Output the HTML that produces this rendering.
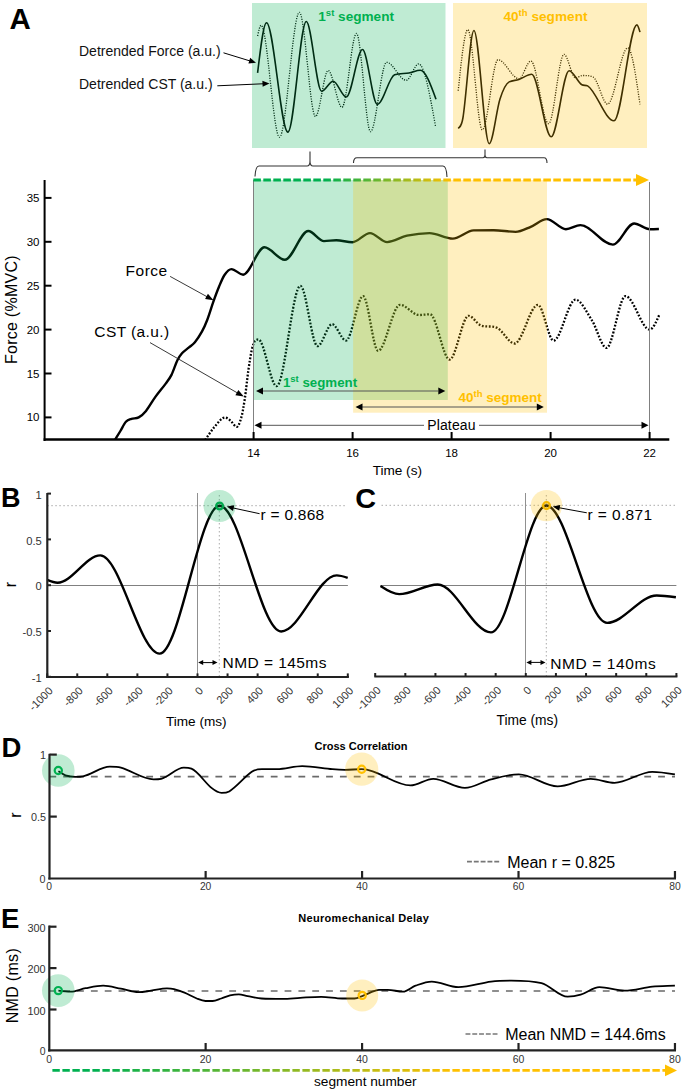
<!DOCTYPE html>
<html><head><meta charset="utf-8"><style>
html,body{margin:0;padding:0;background:#fff;width:685px;height:1092px;overflow:hidden}
svg{display:block;font-family:"Liberation Sans", sans-serif}
</style></head><body>
<svg width="685" height="1092" viewBox="0 0 685 1092">
<rect width="685" height="1092" fill="#fff"/>
<text x="9.6" y="28.6" font-size="29.5" text-anchor="start" font-weight="bold" fill="#000" >A</text>
<path d="M257.60,72.80 C260.57,47.75 263.53,22.70 266.50,22.70 C273.63,22.70 280.77,132.10 287.90,132.10 C294.03,132.10 300.17,21.50 306.30,21.50 C311.40,21.50 316.50,91.20 321.60,91.20 C325.43,91.20 329.27,81.20 333.10,81.20 C337.50,81.20 341.90,97.00 346.30,97.00 C351.70,97.00 357.10,49.50 362.50,49.50 C367.43,49.50 372.37,104.40 377.30,104.40 C383.07,104.40 388.83,76.74 394.60,74.70 C399.40,73.00 404.20,73.82 409.00,73.00 C412.77,72.36 416.53,70.30 420.30,70.30 C425.53,70.30 430.77,84.75 436.00,99.20" fill="none" stroke="#000" stroke-width="1.6" stroke-linejoin="round"/>
<path d="M257.60,36.00 C258.77,30.65 259.93,25.30 261.10,25.30 C267.23,25.30 273.37,137.20 279.50,137.20 C286.13,137.20 292.77,12.30 299.40,12.30 C304.77,12.30 310.13,116.50 315.50,116.50 C319.73,116.50 323.97,70.50 328.20,70.50 C332.80,70.50 337.40,107.30 342.00,107.30 C346.83,107.30 351.67,33.40 356.50,33.40 C361.17,33.40 365.83,131.70 370.50,131.70 C375.87,131.70 381.23,62.30 386.60,62.30 C393.13,62.30 399.67,80.30 406.20,80.30 C410.37,80.30 414.53,63.90 418.70,63.90 C424.30,63.90 429.90,95.00 435.50,126.10" fill="none" stroke="#000" stroke-width="1.3" stroke-dasharray="1.1 1.4"/>
<path d="M458.30,128.40 C459.87,126.52 461.43,127.33 463.00,117.50 C466.63,94.70 470.27,30.50 473.90,30.50 C479.00,30.50 484.10,143.70 489.20,143.70 C492.80,143.70 496.40,110.12 500.00,99.00 C503.07,89.52 506.13,83.43 509.20,81.90 C512.43,80.28 515.67,80.61 518.90,79.50 C523.17,78.04 527.43,74.20 531.70,74.20 C538.20,74.20 544.70,136.80 551.20,136.80 C557.17,136.80 563.13,70.70 569.10,70.70 C573.37,70.70 577.63,82.33 581.90,84.80 C583.80,85.90 585.70,84.80 587.60,85.90 C596.40,90.99 605.20,120.80 614.00,120.80 C621.63,120.80 629.27,24.90 636.90,24.90 C637.93,24.90 638.97,28.50 640.00,32.10" fill="none" stroke="#000" stroke-width="1.6" stroke-linejoin="round"/>
<path d="M458.20,90.70 C461.40,60.20 464.60,29.70 467.80,29.70 C472.63,29.70 477.47,129.80 482.30,129.80 C487.53,129.80 492.77,59.70 498.00,59.70 C504.97,59.70 511.93,78.70 518.90,78.70 C522.90,78.70 526.90,61.00 530.90,61.00 C536.80,61.00 542.70,123.70 548.60,123.70 C553.73,123.70 558.87,54.30 564.00,54.30 C567.83,54.30 571.67,77.90 575.50,77.90 C577.90,77.90 580.30,75.50 582.70,75.50 C586.20,75.50 589.70,75.50 593.20,77.10 C598.00,79.29 602.80,104.10 607.60,104.10 C614.30,104.10 621.00,47.90 627.70,47.90 C631.80,47.90 635.90,76.15 640.00,104.40" fill="none" stroke="#000" stroke-width="1.3" stroke-dasharray="1.1 1.4"/>
<rect x="252" y="3" width="193.5" height="145" fill="rgba(0,176,80,0.25)"/>
<rect x="453" y="3" width="194" height="145" fill="rgba(255,192,0,0.25)"/>
<text x="318.3" y="21.2" font-size="13.6" text-anchor="start" font-weight="bold" fill="#00B050" letter-spacing="0">1<tspan font-size="9.5" dy="-4.8">st</tspan><tspan dy="4.8"> segment</tspan></text>
<text x="503.4" y="21.2" font-size="13.6" text-anchor="start" font-weight="bold" fill="#FFC000" letter-spacing="0.03">40<tspan font-size="9.5" dy="-4.8">th</tspan><tspan dy="4.8"> segment</tspan></text>
<text x="79" y="56" font-size="14" text-anchor="start" font-weight="normal" fill="#111" >Detrended Force (a.u.)</text>
<text x="79" y="89.2" font-size="14" text-anchor="start" font-weight="normal" fill="#111" >Detrended CST (a.u.)</text>
<line x1="223.5" y1="52.8" x2="250.6476375511571" y2="61.15311924650987" stroke="#000" stroke-width="1" />
<polygon points="256.00,62.80 248.43,63.61 250.19,57.87" fill="#000"/>
<line x1="217.3" y1="85.8" x2="263.90542801332845" y2="83.74650412968093" stroke="#000" stroke-width="1" />
<polygon points="269.50,83.50 262.64,86.81 262.37,80.81" fill="#000"/>
<path d="M255,176.5 Q255.5,166 259,166 L307,166 Q310,166 310,161 L310,151.5 M310,161 Q310,166 313,166 L443,166 Q446.5,166 447,177" fill="none" stroke="#333" stroke-width="1.1"/>
<path d="M353.5,163 Q353.5,157.7 357,157.7 L483,157.7 Q485,157.7 485,155 L485,149.5 M485,155 Q485,157.7 487,157.7 L544,157.7 Q547,157.7 547,163" fill="none" stroke="#333" stroke-width="1.1"/>
<clipPath id="ca"><rect x="44" y="170" width="640" height="269"/></clipPath>
<g clip-path="url(#ca)">
<path d="M114.60,440.50 C116.53,437.33 118.47,434.20 120.40,431.00 C122.23,427.97 124.07,423.82 125.90,421.80 C127.73,419.78 129.57,419.53 131.40,418.90 C133.83,418.06 136.27,418.73 138.70,417.40 C141.13,416.07 143.57,413.89 146.00,410.90 C149.07,407.13 152.13,401.35 155.20,397.10 C158.70,392.25 162.20,388.37 165.70,383.60 C167.63,380.97 169.57,378.75 171.50,374.90 C173.47,370.98 175.43,364.35 177.40,360.30 C178.93,357.15 180.47,355.01 182.00,353.30 C184.33,350.71 186.67,349.41 189.00,347.40 C190.97,345.71 192.93,344.59 194.90,342.20 C197.23,339.36 199.57,335.91 201.90,331.70 C203.67,328.51 205.43,324.62 207.20,320.00 C209.23,314.68 211.27,307.62 213.30,301.90 C215.20,296.55 217.10,291.36 219.00,286.80 C220.83,282.40 222.67,277.62 224.50,275.00 C226.80,271.72 229.10,269.10 231.40,269.10 C235.30,269.10 239.20,274.70 243.10,274.70 C250.20,274.70 257.30,247.30 264.40,247.30 C271.20,247.30 278.00,259.80 284.80,259.80 C292.63,259.80 300.47,231.00 308.30,231.00 C313.53,231.00 318.77,241.10 324.00,241.10 C328.10,241.10 332.20,240.20 336.30,240.20 C341.67,240.20 347.03,242.20 352.40,242.20 C358.27,242.20 364.13,233.10 370.00,233.10 C375.70,233.10 381.40,242.10 387.10,242.10 C393.73,242.10 400.37,237.11 407.00,235.70 C414.50,234.11 422.00,233.10 429.50,233.10 C437.27,233.10 445.03,238.60 452.80,238.60 C459.73,238.60 466.67,230.61 473.60,230.40 C480.30,230.20 487.00,230.20 493.70,230.20 C501.00,230.20 508.30,231.90 515.60,231.90 C520.63,231.90 525.67,228.86 530.70,226.80 C536.07,224.60 541.43,219.10 546.80,219.10 C553.17,219.10 559.53,229.20 565.90,229.20 C570.73,229.20 575.57,225.10 580.40,225.10 C591.23,225.10 602.07,244.60 612.90,244.60 C619.97,244.60 627.03,223.50 634.10,223.50 C639.37,223.50 644.63,229.20 649.90,229.20 C652.90,229.20 655.90,229.10 658.90,229.00" fill="none" stroke="#000" stroke-width="2.4" stroke-linejoin="round"/>
<path d="M205.10,440.00 C208.23,435.63 211.37,430.44 214.50,426.90 C218.00,422.94 221.50,417.50 225.00,417.50 C226.93,417.50 228.87,419.45 230.80,421.00 C232.77,422.58 234.73,426.90 236.70,426.90 C238.23,426.90 239.77,422.82 241.30,417.50 C242.47,413.45 243.63,406.58 244.80,398.80 C245.97,391.02 247.13,378.97 248.30,370.80 C249.47,362.63 250.63,354.87 251.80,349.80 C252.97,344.73 254.13,341.42 255.30,340.40 C256.33,339.50 257.37,339.50 258.40,339.50 C264.47,339.50 270.53,386.20 276.60,386.20 C284.53,386.20 292.47,285.80 300.40,285.80 C306.10,285.80 311.80,346.10 317.50,346.10 C322.37,346.10 327.23,324.20 332.10,324.20 C336.73,324.20 341.37,340.60 346.00,340.60 C351.70,340.60 357.40,296.10 363.10,296.10 C368.10,296.10 373.10,350.80 378.10,350.80 C385.40,350.80 392.70,304.80 400.00,304.80 C406.33,304.80 412.67,315.00 419.00,315.00 C422.67,315.00 426.33,314.30 430.00,314.30 C436.53,314.30 443.07,359.60 449.60,359.60 C455.93,359.60 462.27,315.80 468.60,315.80 C472.60,315.80 476.60,323.61 480.60,325.30 C486.07,327.61 491.53,325.30 497.00,327.80 C502.87,330.48 508.73,343.50 514.60,343.50 C522.37,343.50 530.13,304.80 537.90,304.80 C543.13,304.80 548.37,340.60 553.60,340.60 C560.90,340.60 568.20,299.70 575.50,299.70 C581.00,299.70 586.50,311.95 592.00,320.50 C596.83,328.02 601.67,347.90 606.50,347.90 C612.83,347.90 619.17,296.10 625.50,296.10 C633.53,296.10 641.57,329.60 649.60,329.60 C652.90,329.60 656.20,321.95 659.50,314.30" fill="none" stroke="#000" stroke-width="2.3" stroke-dasharray="1.8 1.7"/>
</g>
<rect x="253.6" y="180" width="194.2" height="220" fill="rgba(0,176,80,0.25)"/>
<rect x="353.1" y="180" width="193.9" height="232.7" fill="rgba(255,192,0,0.25)"/>
<line x1="253.5" y1="180" x2="253.5" y2="440" stroke="#808080" stroke-width="1" />
<line x1="649.5" y1="182" x2="649.5" y2="440" stroke="#808080" stroke-width="1" />
<defs><linearGradient id="gt" gradientUnits="userSpaceOnUse" x1="325" y1="0" x2="452" y2="0"><stop offset="0" stop-color="#00B050"/><stop offset="1" stop-color="#FFC000"/></linearGradient><linearGradient id="gb" gradientUnits="userSpaceOnUse" x1="95" y1="0" x2="455" y2="0"><stop offset="0" stop-color="#00B050"/><stop offset="1" stop-color="#FFC000"/></linearGradient></defs>
<line x1="253.3" y1="180" x2="637" y2="180" stroke="url(#gt)" stroke-width="3" stroke-dasharray="7.6 2.4"/>
<polygon points="649,180 636,174 636,186" fill="#FFC000"/>
<line x1="44.6" y1="180" x2="44.6" y2="441" stroke="#000" stroke-width="2" />
<line x1="43.6" y1="439.4" x2="669.3" y2="439.4" stroke="#000" stroke-width="2.5" />
<line x1="44.6" y1="417.4" x2="51.5" y2="417.4" stroke="#000" stroke-width="2" />
<text x="39.5" y="421.4" font-size="11.5" text-anchor="end" font-weight="normal" fill="#000" >10</text>
<line x1="44.6" y1="373.5" x2="51.5" y2="373.5" stroke="#000" stroke-width="2" />
<text x="39.5" y="377.5" font-size="11.5" text-anchor="end" font-weight="normal" fill="#000" >15</text>
<line x1="44.6" y1="329.59999999999997" x2="51.5" y2="329.59999999999997" stroke="#000" stroke-width="2" />
<text x="39.5" y="333.59999999999997" font-size="11.5" text-anchor="end" font-weight="normal" fill="#000" >20</text>
<line x1="44.6" y1="285.7" x2="51.5" y2="285.7" stroke="#000" stroke-width="2" />
<text x="39.5" y="289.7" font-size="11.5" text-anchor="end" font-weight="normal" fill="#000" >25</text>
<line x1="44.6" y1="241.79999999999998" x2="51.5" y2="241.79999999999998" stroke="#000" stroke-width="2" />
<text x="39.5" y="245.79999999999998" font-size="11.5" text-anchor="end" font-weight="normal" fill="#000" >30</text>
<line x1="44.6" y1="197.9" x2="51.5" y2="197.9" stroke="#000" stroke-width="2" />
<text x="39.5" y="201.9" font-size="11.5" text-anchor="end" font-weight="normal" fill="#000" >35</text>
<line x1="253.6" y1="432" x2="253.6" y2="440" stroke="#000" stroke-width="2" />
<text x="253.6" y="456.5" font-size="11.5" text-anchor="middle" font-weight="normal" fill="#000" >14</text>
<line x1="352.6" y1="432" x2="352.6" y2="440" stroke="#000" stroke-width="2" />
<text x="352.6" y="456.5" font-size="11.5" text-anchor="middle" font-weight="normal" fill="#000" >16</text>
<line x1="451.6" y1="432" x2="451.6" y2="440" stroke="#000" stroke-width="2" />
<text x="451.6" y="456.5" font-size="11.5" text-anchor="middle" font-weight="normal" fill="#000" >18</text>
<line x1="550.6" y1="432" x2="550.6" y2="440" stroke="#000" stroke-width="2" />
<text x="550.6" y="456.5" font-size="11.5" text-anchor="middle" font-weight="normal" fill="#000" >20</text>
<line x1="649.6" y1="432" x2="649.6" y2="440" stroke="#000" stroke-width="2" />
<text x="649.6" y="456.5" font-size="11.5" text-anchor="middle" font-weight="normal" fill="#000" >22</text>
<text x="397.3" y="474.9" font-size="13.6" text-anchor="middle" font-weight="normal" fill="#000" >Time (s)</text>
<text x="0" y="0" font-size="16" text-anchor="middle" font-weight="normal" fill="#000" letter-spacing="0.25" transform="translate(17.4,309.6) rotate(-90)">Force (%MVC)</text>
<text x="125.6" y="276" font-size="15.5" text-anchor="start" font-weight="normal" fill="#000" letter-spacing="0.5">Force</text>
<text x="94.3" y="337.2" font-size="15.5" text-anchor="start" font-weight="normal" fill="#000" letter-spacing="0.4">CST (a.u.)</text>
<line x1="170.1" y1="276.4" x2="207.89385534098426" y2="297.21274522233927" stroke="#222" stroke-width="0.9" />
<polygon points="213.50,300.30 205.05,299.07 207.94,293.81" fill="#000"/>
<line x1="150" y1="342.6" x2="238.25346131711427" y2="393.4068967070807" stroke="#222" stroke-width="0.9" />
<polygon points="243.80,396.60 235.37,395.21 238.36,390.01" fill="#000"/>
<line x1="262" y1="391" x2="438" y2="391" stroke="#555" stroke-width="1.2" />
<polygon points="256.00,391.00 263.00,387.50 263.00,394.50" fill="#000"/>
<polygon points="445.30,391.00 438.30,394.50 438.30,387.50" fill="#000"/>
<text x="282.9" y="387" font-size="13.3" text-anchor="start" font-weight="bold" fill="#00B050" letter-spacing="0">1<tspan font-size="9.5" dy="-4.8">st</tspan><tspan dy="4.8"> segment</tspan></text>
<line x1="362" y1="407" x2="537" y2="407" stroke="#555" stroke-width="1.2" />
<polygon points="355.50,407.00 362.50,403.50 362.50,410.50" fill="#000"/>
<polygon points="543.80,407.00 536.80,410.50 536.80,403.50" fill="#000"/>
<text x="458.5" y="402.2" font-size="13.5" text-anchor="start" font-weight="bold" fill="#FFC000" letter-spacing="0">40<tspan font-size="9.5" dy="-4.8">th</tspan><tspan dy="4.8"> segment</tspan></text>
<line x1="261" y1="425.3" x2="424" y2="425.3" stroke="#555" stroke-width="1" />
<line x1="479" y1="425.3" x2="642" y2="425.3" stroke="#555" stroke-width="1" />
<polygon points="254.50,425.30 261.50,421.80 261.50,428.80" fill="#000"/>
<polygon points="648.50,425.30 641.50,428.80 641.50,421.80" fill="#000"/>
<text x="427.2" y="430.2" font-size="14" text-anchor="start" font-weight="normal" fill="#000" letter-spacing="0.15">Plateau</text>
<text x="0.9" y="507.4" font-size="27" text-anchor="start" font-weight="bold" fill="#000" >B</text>
<line x1="47.3" y1="505.7" x2="346" y2="505.7" stroke="#aaa" stroke-width="1" stroke-dasharray="1.5 2.5"/>
<line x1="219.3" y1="495" x2="219.3" y2="676" stroke="#aaa" stroke-width="1" stroke-dasharray="1.5 2.5"/>
<line x1="47.3" y1="585.5" x2="347.9" y2="585.5" stroke="#808080" stroke-width="1" />
<line x1="197.5" y1="493" x2="197.5" y2="677" stroke="#909090" stroke-width="1" />
<path d="M47.30,579.90 C50.70,581.30 54.10,582.70 57.50,582.70 C71.77,582.70 86.03,555.40 100.30,555.40 C120.07,555.40 139.83,653.60 159.60,653.60 C179.60,653.60 199.60,505.70 219.60,505.70 C240.10,505.70 260.60,631.50 281.10,631.50 C299.63,631.50 318.17,575.40 336.70,575.40 C340.37,575.40 344.03,576.65 347.70,577.90" fill="none" stroke="#000" stroke-width="2.4" stroke-linejoin="round"/>
<circle cx="219.6" cy="506" r="16" fill="rgba(0,176,80,0.25)"/>
<circle cx="219.6" cy="506" r="3.4" fill="none" stroke="#00A84C" stroke-width="2.3"/>
<line x1="259.6" y1="513.7" x2="232.27323970353814" y2="507.7847561553391" stroke="#000" stroke-width="1" />
<polygon points="226.80,506.60 234.28,505.15 233.01,511.01" fill="#000"/>
<text x="260.6" y="520.2" font-size="15.5" text-anchor="start" font-weight="normal" fill="#000" letter-spacing="0.25">r = 0.868</text>
<line x1="47.3" y1="493" x2="47.3" y2="678" stroke="#222" stroke-width="2.2" />
<line x1="46.2" y1="677" x2="348.9" y2="677" stroke="#222" stroke-width="2.2" />
<line x1="47.3" y1="493.6" x2="51" y2="493.6" stroke="#222" stroke-width="2" />
<text x="41.8" y="498.70000000000005" font-size="11.2" text-anchor="end" font-weight="normal" fill="#333" >1</text>
<line x1="47.3" y1="539.4000000000001" x2="51" y2="539.4000000000001" stroke="#222" stroke-width="2" />
<text x="41.8" y="544.5000000000001" font-size="11.2" text-anchor="end" font-weight="normal" fill="#333" >0.5</text>
<line x1="47.3" y1="585.2" x2="51" y2="585.2" stroke="#222" stroke-width="2" />
<text x="41.8" y="590.3000000000001" font-size="11.2" text-anchor="end" font-weight="normal" fill="#333" >0</text>
<line x1="47.3" y1="631.0" x2="51" y2="631.0" stroke="#222" stroke-width="2" />
<text x="41.8" y="636.1" font-size="11.2" text-anchor="end" font-weight="normal" fill="#333" >-0.5</text>
<line x1="47.3" y1="676.8000000000001" x2="51" y2="676.8000000000001" stroke="#222" stroke-width="2" />
<text x="41.8" y="681.9000000000001" font-size="11.2" text-anchor="end" font-weight="normal" fill="#333" >-1</text>
<line x1="47.20000000000002" y1="673.4" x2="47.20000000000002" y2="677" stroke="#222" stroke-width="2" />
<text x="0" y="0" font-size="11" text-anchor="end" font-weight="normal" fill="#333" transform="translate(53.5,691.5) rotate(-45)">-1000</text>
<line x1="77.26" y1="673.4" x2="77.26" y2="677" stroke="#222" stroke-width="2" />
<text x="0" y="0" font-size="11" text-anchor="end" font-weight="normal" fill="#333" transform="translate(83.6,691.5) rotate(-45)">-800</text>
<line x1="107.32000000000001" y1="673.4" x2="107.32000000000001" y2="677" stroke="#222" stroke-width="2" />
<text x="0" y="0" font-size="11" text-anchor="end" font-weight="normal" fill="#333" transform="translate(113.6,691.5) rotate(-45)">-600</text>
<line x1="137.38" y1="673.4" x2="137.38" y2="677" stroke="#222" stroke-width="2" />
<text x="0" y="0" font-size="11" text-anchor="end" font-weight="normal" fill="#333" transform="translate(143.7,691.5) rotate(-45)">-400</text>
<line x1="167.44" y1="673.4" x2="167.44" y2="677" stroke="#222" stroke-width="2" />
<text x="0" y="0" font-size="11" text-anchor="end" font-weight="normal" fill="#333" transform="translate(173.7,691.5) rotate(-45)">-200</text>
<line x1="197.5" y1="673.4" x2="197.5" y2="677" stroke="#222" stroke-width="2" />
<text x="0" y="0" font-size="11" text-anchor="end" font-weight="normal" fill="#333" transform="translate(203.8,691.5) rotate(-45)">0</text>
<line x1="227.56" y1="673.4" x2="227.56" y2="677" stroke="#222" stroke-width="2" />
<text x="0" y="0" font-size="11" text-anchor="end" font-weight="normal" fill="#333" transform="translate(233.9,691.5) rotate(-45)">200</text>
<line x1="257.62" y1="673.4" x2="257.62" y2="677" stroke="#222" stroke-width="2" />
<text x="0" y="0" font-size="11" text-anchor="end" font-weight="normal" fill="#333" transform="translate(263.9,691.5) rotate(-45)">400</text>
<line x1="287.68" y1="673.4" x2="287.68" y2="677" stroke="#222" stroke-width="2" />
<text x="0" y="0" font-size="11" text-anchor="end" font-weight="normal" fill="#333" transform="translate(294.0,691.5) rotate(-45)">600</text>
<line x1="317.74" y1="673.4" x2="317.74" y2="677" stroke="#222" stroke-width="2" />
<text x="0" y="0" font-size="11" text-anchor="end" font-weight="normal" fill="#333" transform="translate(324.0,691.5) rotate(-45)">800</text>
<line x1="347.79999999999995" y1="673.4" x2="347.79999999999995" y2="677" stroke="#222" stroke-width="2" />
<text x="0" y="0" font-size="11" text-anchor="end" font-weight="normal" fill="#333" transform="translate(354.1,691.5) rotate(-45)">1000</text>
<text x="196.3" y="726.1" font-size="13.6" text-anchor="middle" font-weight="normal" fill="#000" >Time (ms)</text>
<text x="0" y="0" font-size="16" text-anchor="middle" font-weight="normal" fill="#000" transform="translate(15.7,584.5) rotate(-90)">r</text>
<line x1="202" y1="662.6" x2="213" y2="662.6" stroke="#000" stroke-width="1" />
<polygon points="198.20,662.60 203.20,660.10 203.20,665.10" fill="#000"/>
<polygon points="217.50,662.60 212.50,665.10 212.50,660.10" fill="#000"/>
<text x="222.5" y="667.9" font-size="15.5" text-anchor="start" font-weight="normal" fill="#000" letter-spacing="0.45">NMD = 145ms</text>
<text x="355.3" y="507.6" font-size="27.5" text-anchor="start" font-weight="bold" fill="#000" letter-spacing="0" transform="translate(355.3 0) scale(1.05 1) translate(-355.3 0)">C</text>
<line x1="381.5" y1="505.3" x2="676" y2="505.3" stroke="#aaa" stroke-width="1" stroke-dasharray="1.5 2.5"/>
<line x1="546.3" y1="495" x2="546.3" y2="676" stroke="#aaa" stroke-width="1" stroke-dasharray="1.5 2.5"/>
<line x1="380.3" y1="585.5" x2="676.4" y2="585.5" stroke="#808080" stroke-width="1" />
<line x1="525.5" y1="493" x2="525.5" y2="676.5" stroke="#909090" stroke-width="1" />
<path d="M380.50,585.90 C386.73,590.00 392.97,594.10 399.20,594.10 C412.03,594.10 424.87,584.50 437.70,584.50 C455.47,584.50 473.23,632.40 491.00,632.40 C509.47,632.40 527.93,505.50 546.40,505.50 C566.63,505.50 586.87,622.90 607.10,622.90 C623.63,622.90 640.17,595.50 656.70,595.50 C663.10,595.50 669.50,596.35 675.90,597.20" fill="none" stroke="#000" stroke-width="2.4" stroke-linejoin="round"/>
<circle cx="546.5" cy="505.6" r="15.7" fill="rgba(255,192,0,0.25)"/>
<circle cx="546.5" cy="505.6" r="3.4" fill="none" stroke="#F5B800" stroke-width="2.3"/>
<line x1="586.8" y1="512.8" x2="558.3091522500698" y2="507.60461011618924" stroke="#000" stroke-width="1" />
<polygon points="552.80,506.60 560.22,504.90 559.15,510.81" fill="#000"/>
<text x="587.6" y="520.3" font-size="15.5" text-anchor="start" font-weight="normal" fill="#000" letter-spacing="0.37">r = 0.871</text>
<line x1="374.3" y1="676.5" x2="677.4" y2="676.5" stroke="#222" stroke-width="2.2" />
<line x1="375.19999999999993" y1="673" x2="375.19999999999993" y2="676.5" stroke="#222" stroke-width="2" />
<text x="0" y="0" font-size="11" text-anchor="end" font-weight="normal" fill="#333" transform="translate(381.5,691) rotate(-45)">-1000</text>
<line x1="405.31999999999994" y1="673" x2="405.31999999999994" y2="676.5" stroke="#222" stroke-width="2" />
<text x="0" y="0" font-size="11" text-anchor="end" font-weight="normal" fill="#333" transform="translate(411.6,691) rotate(-45)">-800</text>
<line x1="435.43999999999994" y1="673" x2="435.43999999999994" y2="676.5" stroke="#222" stroke-width="2" />
<text x="0" y="0" font-size="11" text-anchor="end" font-weight="normal" fill="#333" transform="translate(441.7,691) rotate(-45)">-600</text>
<line x1="465.55999999999995" y1="673" x2="465.55999999999995" y2="676.5" stroke="#222" stroke-width="2" />
<text x="0" y="0" font-size="11" text-anchor="end" font-weight="normal" fill="#333" transform="translate(471.9,691) rotate(-45)">-400</text>
<line x1="495.67999999999995" y1="673" x2="495.67999999999995" y2="676.5" stroke="#222" stroke-width="2" />
<text x="0" y="0" font-size="11" text-anchor="end" font-weight="normal" fill="#333" transform="translate(502.0,691) rotate(-45)">-200</text>
<line x1="525.8" y1="673" x2="525.8" y2="676.5" stroke="#222" stroke-width="2" />
<text x="0" y="0" font-size="11" text-anchor="end" font-weight="normal" fill="#333" transform="translate(532.1,691) rotate(-45)">0</text>
<line x1="555.92" y1="673" x2="555.92" y2="676.5" stroke="#222" stroke-width="2" />
<text x="0" y="0" font-size="11" text-anchor="end" font-weight="normal" fill="#333" transform="translate(562.2,691) rotate(-45)">200</text>
<line x1="586.04" y1="673" x2="586.04" y2="676.5" stroke="#222" stroke-width="2" />
<text x="0" y="0" font-size="11" text-anchor="end" font-weight="normal" fill="#333" transform="translate(592.3,691) rotate(-45)">400</text>
<line x1="616.16" y1="673" x2="616.16" y2="676.5" stroke="#222" stroke-width="2" />
<text x="0" y="0" font-size="11" text-anchor="end" font-weight="normal" fill="#333" transform="translate(622.5,691) rotate(-45)">600</text>
<line x1="646.28" y1="673" x2="646.28" y2="676.5" stroke="#222" stroke-width="2" />
<text x="0" y="0" font-size="11" text-anchor="end" font-weight="normal" fill="#333" transform="translate(652.6,691) rotate(-45)">800</text>
<line x1="676.4" y1="673" x2="676.4" y2="676.5" stroke="#222" stroke-width="2" />
<text x="0" y="0" font-size="11" text-anchor="end" font-weight="normal" fill="#333" transform="translate(682.7,691) rotate(-45)">1000</text>
<text x="527.3" y="725.3" font-size="13.8" text-anchor="middle" font-weight="normal" fill="#000" >Time (ms)</text>
<line x1="530" y1="662.4" x2="541.5" y2="662.4" stroke="#000" stroke-width="1" />
<polygon points="526.40,662.40 531.40,659.90 531.40,664.90" fill="#000"/>
<polygon points="545.50,662.40 540.50,664.90 540.50,659.90" fill="#000"/>
<text x="550.3" y="668.6" font-size="15.5" text-anchor="start" font-weight="normal" fill="#000" letter-spacing="0.6">NMD = 140ms</text>
<text x="1.4" y="756.5" font-size="27.5" text-anchor="start" font-weight="bold" fill="#000" >D</text>
<text x="361" y="749.9" font-size="11" text-anchor="middle" font-weight="bold" fill="#000" >Cross Correlation</text>
<line x1="49.4" y1="776.6" x2="675" y2="776.6" stroke="#6a6a6a" stroke-width="1.7" stroke-dasharray="6.8 7.035"/>
<path d="M58.40,771.30 C60.77,772.63 63.13,774.54 65.50,775.30 C68.83,776.37 72.17,776.80 75.50,776.80 C78.03,776.80 80.57,776.80 83.10,776.30 C92.00,774.54 100.90,766.70 109.80,766.70 C113.50,766.70 117.20,766.70 120.90,767.70 C131.80,770.65 142.70,779.30 153.60,779.30 C156.13,779.30 158.67,779.30 161.20,778.80 C168.73,777.31 176.27,767.70 183.80,767.70 C186.33,767.70 188.87,767.70 191.40,768.70 C198.10,771.34 204.80,782.53 211.50,787.90 C214.87,790.60 218.23,792.90 221.60,792.90 C224.13,792.90 226.67,792.90 229.20,791.40 C236.73,786.94 244.27,776.91 251.80,771.80 C255.17,769.51 258.53,769.20 261.90,769.20 C266.93,769.20 271.97,769.20 277.00,769.20 C285.40,769.20 293.80,766.20 302.20,766.20 C312.27,766.20 322.33,768.35 332.40,769.20 C336.60,769.55 340.80,769.80 345.00,769.80 C350.57,769.80 356.13,769.20 361.70,769.20 C365.37,769.20 369.03,770.08 372.70,771.30 C385.30,775.48 397.90,785.40 410.50,785.40 C418.07,785.40 425.63,778.80 433.20,778.80 C443.77,778.80 454.33,787.90 464.90,787.90 C473.63,787.90 482.37,781.50 491.10,779.30 C500.33,776.97 509.57,774.30 518.80,774.30 C531.73,774.30 544.67,786.40 557.60,786.40 C568.67,786.40 579.73,778.80 590.80,778.80 C598.70,778.80 606.60,782.80 614.50,782.80 C627.10,782.80 639.70,771.80 652.30,771.80 C659.83,771.80 667.37,773.05 674.90,774.30" fill="none" stroke="#000" stroke-width="1.8" stroke-linejoin="round"/>
<circle cx="58.3" cy="770.5" r="16.3" fill="rgba(0,176,80,0.25)"/>
<circle cx="58.3" cy="770.5" r="3.6" fill="none" stroke="#00B050" stroke-width="2.2"/>
<circle cx="361.7" cy="769.2" r="16.6" fill="rgba(255,192,0,0.25)"/>
<circle cx="361.7" cy="769.2" r="3.6" fill="none" stroke="#FFC000" stroke-width="2.2"/>
<line x1="49.5" y1="753.8" x2="49.5" y2="879.5" stroke="#222" stroke-width="2.2" />
<line x1="48.4" y1="878.5" x2="676" y2="878.5" stroke="#222" stroke-width="2.2" />
<line x1="49.5" y1="754.6" x2="56.8" y2="754.6" stroke="#222" stroke-width="2.2" />
<text x="46" y="759.4" font-size="10.8" text-anchor="end" font-weight="normal" fill="#333" >1</text>
<line x1="49.5" y1="816.6" x2="56.8" y2="816.6" stroke="#222" stroke-width="2.2" />
<text x="46" y="821.4" font-size="10.8" text-anchor="end" font-weight="normal" fill="#333" >0.5</text>
<text x="45.6" y="882.8" font-size="10.8" text-anchor="end" font-weight="normal" fill="#333" >0</text>
<line x1="205.64" y1="871" x2="205.64" y2="878.5" stroke="#222" stroke-width="2.2" />
<line x1="362.08" y1="871" x2="362.08" y2="878.5" stroke="#222" stroke-width="2.2" />
<line x1="518.52" y1="871" x2="518.52" y2="878.5" stroke="#222" stroke-width="2.2" />
<line x1="674.96" y1="871" x2="674.96" y2="878.5" stroke="#222" stroke-width="2.2" />
<text x="49.2" y="890.3" font-size="10.3" text-anchor="middle" font-weight="normal" fill="#333" >0</text>
<text x="205.64" y="890.3" font-size="10.3" text-anchor="middle" font-weight="normal" fill="#333" >20</text>
<text x="362.08" y="890.3" font-size="10.3" text-anchor="middle" font-weight="normal" fill="#333" >40</text>
<text x="518.52" y="890.3" font-size="10.3" text-anchor="middle" font-weight="normal" fill="#333" >60</text>
<text x="674.96" y="890.3" font-size="10.3" text-anchor="middle" font-weight="normal" fill="#333" >80</text>
<text x="0" y="0" font-size="16" text-anchor="middle" font-weight="normal" fill="#000" transform="translate(21,815) rotate(-90)">r</text>
<line x1="467" y1="861.6" x2="499.2" y2="861.6" stroke="#777" stroke-width="1.6" stroke-dasharray="4.9 1.92"/>
<text x="507.2" y="867.5" font-size="16" text-anchor="start" font-weight="normal" fill="#000" >Mean r = 0.825</text>
<text x="0.9" y="928.4" font-size="27.5" text-anchor="start" font-weight="bold" fill="#000" >E</text>
<text x="363.7" y="922.1" font-size="11" text-anchor="middle" font-weight="bold" fill="#000" letter-spacing="0.33">Neuromechanical Delay</text>
<line x1="49.4" y1="991" x2="675" y2="991" stroke="#6a6a6a" stroke-width="1.7" stroke-dasharray="6.8 7.035"/>
<path d="M58.40,990.70 C62.43,991.20 66.47,991.70 70.50,991.70 C75.53,991.70 80.57,989.12 85.60,988.20 C91.47,987.12 97.33,985.70 103.20,985.70 C109.10,985.70 115.00,987.61 120.90,988.70 C126.77,989.78 132.63,992.20 138.50,992.20 C142.70,992.20 146.90,991.26 151.10,990.70 C156.40,989.99 161.70,988.40 167.00,988.40 C169.33,988.40 171.67,988.54 174.00,989.10 C177.50,989.94 181.00,991.16 184.50,992.60 C188.60,994.29 192.70,996.86 196.80,998.50 C199.70,999.66 202.60,1001.00 205.50,1001.00 C207.87,1001.00 210.23,1001.00 212.60,1001.00 C215.50,1001.00 218.40,999.43 221.30,998.50 C224.20,997.57 227.10,996.10 230.00,995.40 C232.93,994.70 235.87,994.30 238.80,994.30 C241.73,994.30 244.67,995.56 247.60,996.10 C252.27,996.96 256.93,998.23 261.60,998.50 C268.60,998.90 275.60,998.90 282.60,998.90 C288.47,998.90 294.33,998.12 300.20,997.80 C307.20,997.42 314.20,996.80 321.20,996.80 C328.20,996.80 335.20,998.50 342.20,998.50 C346.30,998.50 350.40,998.50 354.50,998.50 C357.07,998.50 359.63,997.06 362.20,996.10 C364.87,995.10 367.53,993.60 370.20,992.60 C373.13,991.50 376.07,989.80 379.00,989.80 C381.93,989.80 384.87,989.80 387.80,989.80 C392.87,989.80 397.93,991.70 403.00,991.70 C407.17,991.70 411.33,987.17 415.50,985.70 C420.90,983.80 426.30,981.60 431.70,981.60 C440.60,981.60 449.50,987.20 458.40,987.20 C469.30,987.20 480.20,982.96 491.10,981.60 C497.80,980.76 504.50,980.60 511.20,980.60 C521.30,980.60 531.40,980.60 541.50,983.10 C550.20,985.25 558.90,996.70 567.60,996.70 C571.97,996.70 576.33,996.00 580.70,994.70 C586.93,992.84 593.17,987.20 599.40,987.20 C607.80,987.20 616.20,990.70 624.60,990.70 C633.83,990.70 643.07,987.62 652.30,986.70 C659.83,985.95 667.37,986.03 674.90,985.70" fill="none" stroke="#000" stroke-width="1.8" stroke-linejoin="round"/>
<circle cx="58.3" cy="990.6" r="16.3" fill="rgba(0,176,80,0.25)"/>
<circle cx="58.3" cy="990.6" r="3.6" fill="none" stroke="#00B050" stroke-width="2.2"/>
<circle cx="362.2" cy="995.4" r="16" fill="rgba(255,192,0,0.25)"/>
<circle cx="362.2" cy="995.4" r="3.6" fill="none" stroke="#FFC000" stroke-width="2.2"/>
<line x1="49.3" y1="925.5" x2="49.3" y2="1051.5" stroke="#222" stroke-width="2.2" />
<line x1="48.2" y1="1050.4" x2="676" y2="1050.4" stroke="#222" stroke-width="2.2" />
<line x1="49.3" y1="1009.5000000000001" x2="56.5" y2="1009.5000000000001" stroke="#222" stroke-width="2.2" />
<text x="45.6" y="1014.5000000000001" font-size="10.9" text-anchor="end" font-weight="normal" fill="#333" >100</text>
<line x1="49.3" y1="968.1000000000001" x2="56.5" y2="968.1000000000001" stroke="#222" stroke-width="2.2" />
<text x="45.6" y="973.1000000000001" font-size="10.9" text-anchor="end" font-weight="normal" fill="#333" >200</text>
<line x1="49.3" y1="926.7" x2="56.5" y2="926.7" stroke="#222" stroke-width="2.2" />
<text x="45.6" y="931.7" font-size="10.9" text-anchor="end" font-weight="normal" fill="#333" >300</text>
<text x="45.5" y="1055" font-size="10.5" text-anchor="end" font-weight="normal" fill="#333" >0</text>
<line x1="205.64" y1="1043" x2="205.64" y2="1050.4" stroke="#222" stroke-width="2.2" />
<line x1="362.08" y1="1043" x2="362.08" y2="1050.4" stroke="#222" stroke-width="2.2" />
<line x1="518.52" y1="1043" x2="518.52" y2="1050.4" stroke="#222" stroke-width="2.2" />
<line x1="674.96" y1="1043" x2="674.96" y2="1050.4" stroke="#222" stroke-width="2.2" />
<text x="49.2" y="1063.2" font-size="10.5" text-anchor="middle" font-weight="normal" fill="#333" >0</text>
<text x="205.64" y="1063.2" font-size="10.5" text-anchor="middle" font-weight="normal" fill="#333" >20</text>
<text x="362.08" y="1063.2" font-size="10.5" text-anchor="middle" font-weight="normal" fill="#333" >40</text>
<text x="518.52" y="1063.2" font-size="10.5" text-anchor="middle" font-weight="normal" fill="#333" >60</text>
<text x="674.96" y="1063.2" font-size="10.5" text-anchor="middle" font-weight="normal" fill="#333" >80</text>
<text x="0" y="0" font-size="16" text-anchor="middle" font-weight="normal" fill="#000" letter-spacing="0.3" transform="translate(17.5,985.6) rotate(-90)">NMD (ms)</text>
<line x1="465.5" y1="1034" x2="497.5" y2="1034" stroke="#777" stroke-width="1.6" stroke-dasharray="4.9 1.88"/>
<text x="505.2" y="1040.2" font-size="16" text-anchor="start" font-weight="normal" fill="#000" >Mean NMD = 144.6ms</text>
<line x1="52.4" y1="1070.4" x2="665" y2="1070.4" stroke="url(#gb)" stroke-width="2.8" stroke-dasharray="7.4 2.6"/>
<polygon points="677,1070.4 665,1064.5 665,1076.3" fill="#FFC000"/>
<text x="365.3" y="1085.6" font-size="13.7" text-anchor="middle" font-weight="normal" fill="#000" >segment number</text>
</svg></body></html>
